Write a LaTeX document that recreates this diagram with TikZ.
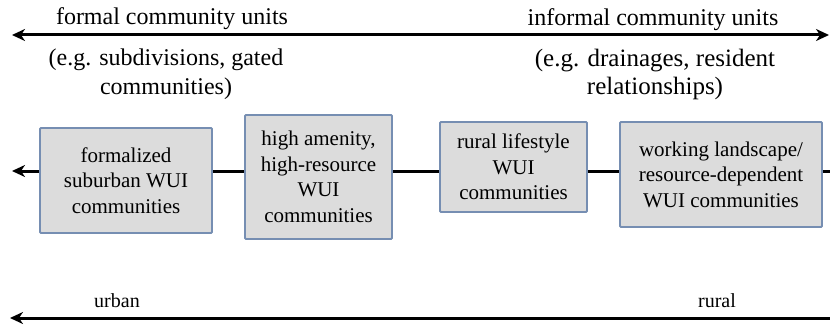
\documentclass[tikz,border=0pt]{standalone}
\usepackage{fontspec}
\setmainfont{LiberationSerif}[Extension=.ttf, UprightFont=*-Regular, BoldFont=*-Bold, ItalicFont=*-Italic]
\usetikzlibrary{arrows.meta, positioning}
\definecolor{boxfill}{RGB}{220,220,220}
\definecolor{boxedge}{RGB}{118,142,178}

\begin{document}
\begin{tikzpicture}[
    x=1pt, y=-1pt,
    axis/.style={line width=3pt, -{Stealth[length=13pt,width=12pt,inset=4pt]}},
    twoway/.style={line width=3pt, {Stealth[length=13pt,width=12pt,inset=4pt]}-{Stealth[length=13pt,width=12pt,inset=4pt]}},
    link/.style={line width=3pt},
    commbox/.style={draw=boxedge, fill=boxfill, line width=1.8pt, rounded corners=1pt,
      align=center, inner sep=0pt, font=\fontsize{21}{25.5}\selectfont},
    unitlabel/.style={font=\fontsize{24}{29}\selectfont, align=center, inner sep=0pt},
    gradlabel/.style={font=\fontsize{20}{24}\selectfont, inner sep=0pt}
  ]
  \useasboundingbox (0,0) rectangle (830,329);

  % formal / informal axis
  \coordinate (topL) at (12,35);
  \coordinate (topR) at (829,35);
  \draw[twoway] (topL) -- (topR);
  \node[unitlabel, anchor=base] (formal) at (172,25) {formal community units};
  \node[unitlabel, anchor=base] (informal) at (653,26) {informal community units};
  \node[unitlabel, anchor=north] (formalex) at (166,49) {(e.g. subdivisions, gated\\communities)};
  \node[unitlabel, anchor=north, font=\fontsize{25}{28}\selectfont] (informalex) at (655,49)
    {(e.g. drainages, resident\\relationships)};

  % community types
  \node[commbox, minimum width=172pt, minimum height=105pt] (suburban) at (126,180.5)
    {formalized\\suburban WUI\\communities};
  \node[commbox, minimum width=147pt, minimum height=124pt] (amenity) at (318.5,177)
    {high amenity,\\high-resource\\WUI\\communities};
  \node[commbox, minimum width=147pt, minimum height=90pt] (lifestyle) at (513.5,167)
    {rural lifestyle\\WUI\\communities};
  \node[commbox, minimum width=202pt, minimum height=105pt] (working) at (721,174.5)
    {working landscape/\\resource-dependent\\WUI communities};

  \coordinate (midL) at (12,171);
  \coordinate (midR) at (830,171);
  \draw[axis] (suburban.west |- midL) -- (midL);
  \draw[link] (suburban.east |- midL) -- (amenity.west |- midL);
  \draw[link] (amenity.east |- midL) -- (lifestyle.west |- midL);
  \draw[link] (lifestyle.east |- midL) -- (working.west |- midL);
  \draw[link] (working.east |- midR) -- (midR);

  % urban / rural axis
  \coordinate (botL) at (10,318);
  \coordinate (botR) at (830,318);
  \draw[axis] (botR) -- (botL);
  \node[gradlabel, anchor=base] (urban) at (117,307) {urban};
  \node[gradlabel, anchor=base] (rural) at (717,307) {rural};
\end{tikzpicture}
\end{document}
